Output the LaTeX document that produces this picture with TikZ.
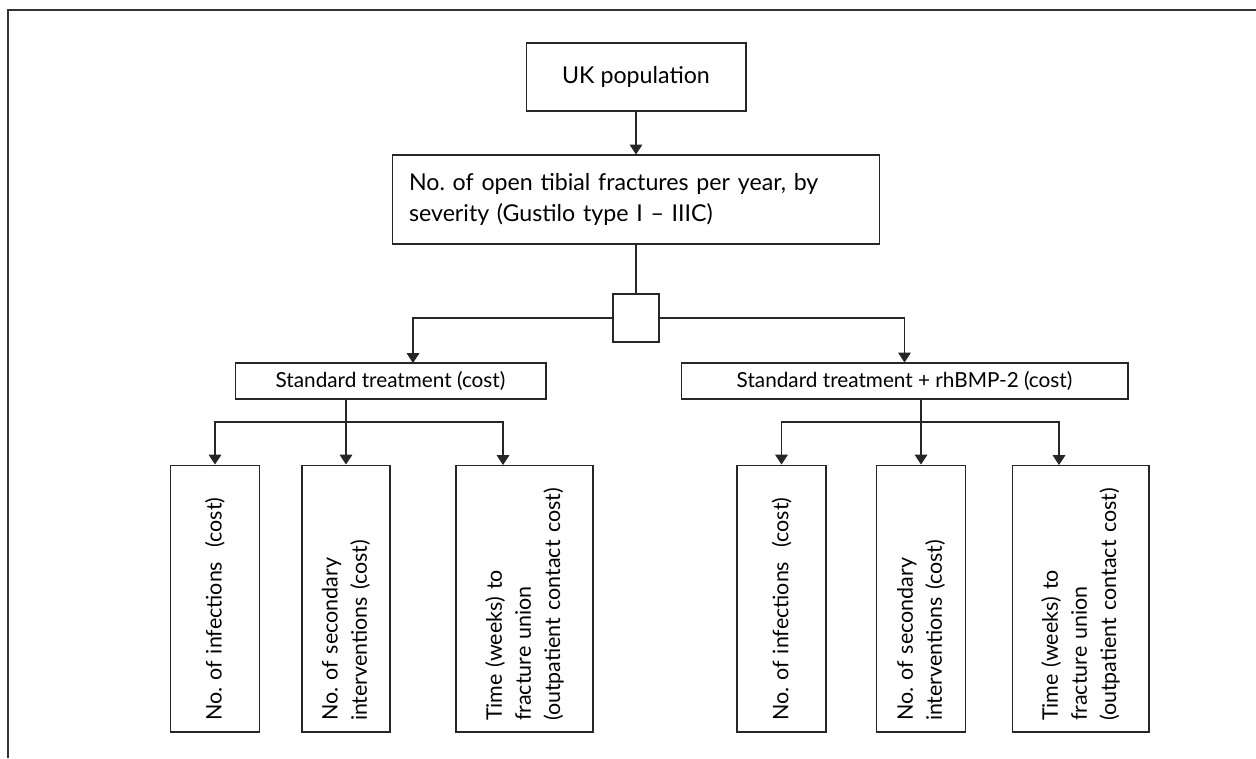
\documentclass[tikz,border=0pt]{standalone}
\usepackage{fontspec}
\setmainfont{Lato}
\usepackage{tikz}
\usetikzlibrary{positioning,arrows.meta}
\frenchspacing

\begin{document}
\begin{tikzpicture}[x=0.02cm, y=-0.02cm, >={Triangle[length=5.6pt,width=7.2pt]}, font=\fontsize{11.8}{16.5}\selectfont]
    \tikzstyle{block} = [draw=black!85, line width=0.6pt, rectangle, inner sep=0pt, align=center]
    \tikzstyle{bigtext} = [font=\fontsize{13.2}{18}\selectfont]
    \tikzstyle{vblock} = [block, rotate=90, minimum width=5.34cm, text width=4.9cm, inner xsep=0.22cm, align=left, font=\fontsize{12.2}{16.6}\selectfont]
    \tikzstyle{arrow} = [->, draw=black!85, line width=0.6pt]
    \tikzstyle{link} = [draw=black!85, line width=0.6pt]

    \useasboundingbox (0,0) rectangle (1256,758);
    \draw[black!80, line width=1pt] (8,758) -- (8,10) -- (1256,10);

    \node[block, bigtext, minimum width=4.4cm, minimum height=1.36cm] (uk) at (636,77) {UK population};
    \node[block, bigtext, align=left, text width=9.08cm, inner xsep=0.34cm, minimum height=1.78cm] (fract) at (636,199.5) {No. of open tibial fractures per year, by\\severity (Gustilo type I -- IIIC)};
    \node[block, minimum width=0.92cm, minimum height=0.96cm] (chance) at (636,318) {};
    \node[block, minimum width=6.22cm, minimum height=0.72cm] (std) at (390.5,381) {Standard treatment (cost)};
    \node[block, minimum width=8.94cm, minimum height=0.72cm] (bmp) at (904.5,381) {Standard treatment + rhBMP-2 (cost)};

    \node[vblock, minimum height=1.78cm] (infA) at (215,598.5) {No. of infections~ (cost)};
    \node[vblock, minimum height=1.76cm] (secA) at (346,598.5) {No. of secondary\\interventions (cost)};
    \node[vblock, minimum height=2.74cm] (timeA) at (524.5,598.5) {Time (weeks) to\\fracture union\\(outpatient contact cost)};
    \node[vblock, minimum height=1.78cm] (infB) at (781.5,598.5) {No. of infections~ (cost)};
    \node[vblock, minimum height=1.78cm] (secB) at (921,598.5) {No. of secondary\\interventions (cost)};
    \node[vblock, minimum height=2.74cm] (timeB) at (1080.5,598.5) {Time (weeks) to\\fracture union\\(outpatient contact cost)};

    \coordinate (stdin) at (413,363);
    \coordinate (splitA) at (346,422);
    \coordinate (splitB) at (921,422);
    \coordinate (timeAin) at (503,465);
    \coordinate (timeBin) at (1059,465);

    \draw[arrow] (uk) -- (fract);
    \draw[link] (fract) -- (chance);
    \draw[arrow] (chance.west) -| (stdin);
    \draw[arrow] (chance.east) -| (bmp.north);

    \draw[link] (std.south -| splitA) -- (splitA);
    \draw[arrow] (splitA) -| (infA.east);
    \draw[arrow] (splitA) -- (secA.east);
    \draw[arrow] (splitA) -| (timeAin);

    \draw[link] (bmp.south -| splitB) -- (splitB);
    \draw[arrow] (splitB) -| (infB.east);
    \draw[arrow] (splitB) -- (secB.east);
    \draw[arrow] (splitB) -| (timeBin);
\end{tikzpicture}
\end{document}
